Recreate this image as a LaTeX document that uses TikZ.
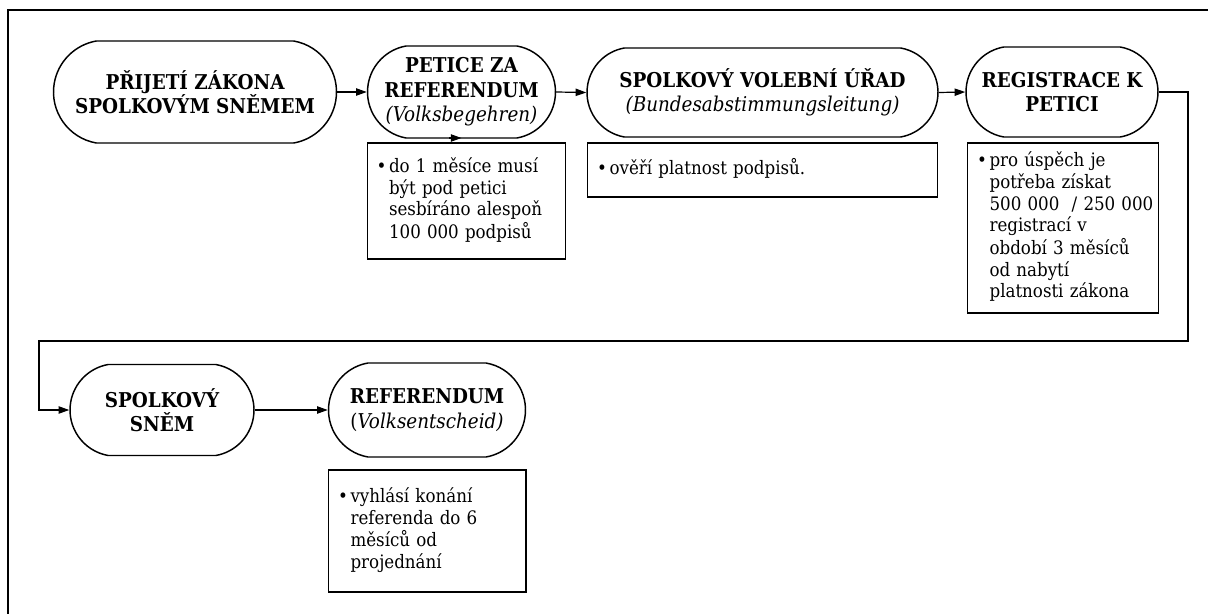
\documentclass[tikz,border=0pt]{standalone}
\usepackage{fontspec}
\setmainfont{DejaVu Serif Condensed}
\usetikzlibrary{shapes.misc,arrows.meta}
\newcommand\bul[1]{\begin{tabular}{@{}l@{\hspace{2pt}}l@{}}\textbullet&\begin{tabular}[t]{@{}l@{}}#1\end{tabular}\end{tabular}}
\tikzset{
  stage/.style={rounded rectangle, rounded rectangle arc length=160, draw, line width=1.1pt,
    align=center, inner sep=0pt, font=\fontsize{15.3}{18.3}\selectfont\bfseries},
  note/.style={rectangle, draw, line width=1.1pt, anchor=west, align=left, inner xsep=7pt, inner ysep=0pt,
    font=\fontsize{13.9}{16.3}\selectfont},
  arr/.style={line width=0.9pt, -{Triangle[length=8pt,width=5.5pt]}}
}
\newcommand\ital[1]{{\mdseries\itshape #1}}
\begin{document}
\begin{tikzpicture}[x=0.75pt,y=-0.75pt]
\useasboundingbox (0,0) rectangle (1208,614);
\draw[line width=1.5pt] (8,614) -- (8,10) -- (1208,10);

\node[stage, minimum width=212.25pt, minimum height=76.5pt] (n1) at (195,92)
  {PŘIJETÍ ZÁKONA\\SPOLKOVÝM SNĚMEM};
\node[stage, minimum width=141pt, minimum height=69pt] (n2) at (461.5,92)
  {PETICE ZA\\REFERENDUM\\\ital{(Volksbegehren)}};
\node[stage, minimum width=263.25pt, minimum height=66.75pt] (n3) at (762.5,92.5)
  {SPOLKOVÝ VOLEBNÍ ÚŘAD\\\ital{(Bundesabstimmungsleitung)}};
\node[stage, minimum width=144pt, minimum height=67.5pt] (n4) at (1062,92)
  {REGISTRACE K\\PETICI};
\node[stage, minimum width=138pt, minimum height=68.25pt] (n5) at (162,410)
  {SPOLKOVÝ\\SNĚM};
\node[stage, minimum width=147.75pt, minimum height=70.5pt] (n6) at (427,410)
  {REFERENDUM\\{\mdseries(}\ital{Volksentscheid)}};

\node[note, minimum width=148.5pt, text width=134.5pt, minimum height=87pt] (b2) at (366.5,201)
  {\bul{do 1 měsíce musí\\být pod petici\\sesbíráno alespoň\\100 000 podpisů}};
\node[note, minimum width=262.5pt, text width=248.5pt, minimum height=40.5pt] (b3) at (587,170)
  {\bul{ověří platnost podpisů.}};
\node[note, minimum width=143.25pt, text width=129.25pt, minimum height=127.5pt] (b4) at (967,228)
  {\bul{pro úspěch je\\potřeba získat\\500 000\ \ / 250 000\\registrací v\\období 3 měsíců\\od nabytí\\platnosti zákona}};
\node[note, minimum width=148.1pt, text width=134.1pt, minimum height=91.5pt] (b6) at (328,531)
  {\bul{vyhlásí konání\\referenda do 6\\měsíců od\\projednání}};

\coordinate (c2) at (1188,341);
\coordinate (c3) at (39,341);
\coordinate (stub) at (449,138);
\coordinate (stubend) at (461.5,138);

\draw[arr] (n1.east) -- (n2.west);
\draw[arr] (n2.east) -- (n3.west);
\draw[arr] (n3.east) -- (n4.west);
\draw[arr] (n5.east) -- (n6.west);
\draw[arr] (n4.east) -| (c2) -- (c3) |- (n5.west);
\draw[arr] (stub) -- (stubend);
\end{tikzpicture}
\end{document}
